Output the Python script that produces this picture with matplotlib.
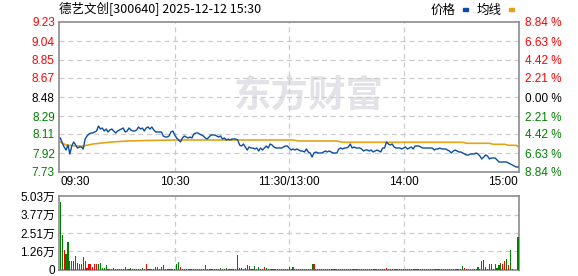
import matplotlib
matplotlib.use('Agg')
import matplotlib.pyplot as plt

plt.rcParams['font.family'] = ['Liberation Sans', 'Noto Sans CJK SC', 'DejaVu Sans']

# ---- data ----
title = '德艺文创[300640] 2025-12-12 15:30'
prev_close = 8.48

# one price per minute, 09:30 .. 15:00 (241 points)
price = [
    8.07, 8.02, 7.98, 7.95, 8.00, 7.91, 7.99, 8.03, 8.00, 7.97,
    7.98, 7.98, 7.96, 8.06, 8.09, 8.11, 8.12, 8.12, 8.13, 8.14,
    8.19, 8.16, 8.17, 8.14, 8.16, 8.13, 8.15, 8.16, 8.14, 8.12,
    8.14, 8.15, 8.16, 8.17, 8.13, 8.14, 8.17, 8.15, 8.14, 8.14,
    8.15, 8.18, 8.16, 8.17, 8.14, 8.17, 8.18, 8.16, 8.18, 8.15,
    8.13, 8.13, 8.13, 8.13, 8.09, 8.08, 8.08, 8.09, 8.13, 8.14,
    8.10, 8.07, 8.05, 8.03, 8.07, 8.09, 8.08, 8.07, 8.08, 8.07,
    8.11, 8.12, 8.12, 8.11, 8.10, 8.09, 8.07, 8.06, 8.08, 8.10,
    8.10, 8.10, 8.09, 8.08, 8.09, 8.06, 8.07, 8.05, 8.06, 8.05,
    8.06, 8.06, 8.06, 8.05, 8.00, 7.99, 8.01, 7.98, 7.95, 7.98,
    7.97, 7.97, 7.96, 7.97, 7.94, 7.97, 7.95, 7.97, 7.99, 7.97,
    8.01, 8.00, 7.98, 7.97, 7.97, 7.97, 7.97, 7.98, 7.99, 7.99,
    7.97, 7.95, 7.96, 7.95, 7.96, 7.95, 7.94, 7.94, 7.93, 7.96,
    7.93, 7.92, 7.88, 7.92, 7.93, 7.92, 7.92, 7.92, 7.93, 7.94,
    7.93, 7.94, 7.93, 7.92, 7.92, 7.92, 7.96, 7.97, 7.96, 7.97,
    7.97, 7.98, 8.01, 7.97, 7.98, 7.97, 7.97, 7.97, 7.96, 7.94,
    7.95, 7.95, 7.94, 7.95, 7.93, 7.94, 7.95, 7.94, 7.93, 7.97,
    7.97, 8.03, 8.01, 8.00, 8.01, 7.98, 7.97, 7.97, 7.97, 7.96,
    7.97, 7.98, 7.96, 7.97, 7.98, 7.96, 7.99, 7.99, 7.99, 7.98,
    7.97, 7.97, 7.97, 7.97, 7.97, 7.97, 7.95, 7.96, 7.96, 7.97,
    7.96, 7.96, 7.96, 7.95, 7.94, 7.92, 7.94, 7.95, 7.94, 7.93,
    7.93, 7.92, 7.91, 7.90, 7.90, 7.91, 7.91, 7.91, 7.92, 7.91,
    7.89, 7.86, 7.88, 7.90, 7.89, 7.86, 7.87, 7.87, 7.87, 7.85,
    7.83, 7.83, 7.83, 7.83, 7.83, 7.82, 7.81, 7.80, 7.79, 7.78,
    7.78,
]

# average price line, read at a few minutes
avg_minutes = [0, 3, 8, 12, 17, 22, 27, 35, 45, 60, 90, 122, 125, 145, 148,
               180, 211, 213, 225, 227, 233, 235, 239, 240]
avg_price = [8.03, 8.00, 7.99, 7.99, 8.01, 8.02, 8.03, 8.04, 8.045, 8.05, 8.05,
             8.05, 8.04, 8.04, 8.027, 8.027, 8.027, 8.017, 8.017, 8.007,
             8.007, 7.997, 7.997, 7.983]

# volume per minute, in 万 shares
volume = [
    4.62, 2.38, 1.36, 1.09, 1.93, 0.63, 0.63, 0.63, 0.95, 0.45,
    0.41, 0.41, 0.88, 0.61, 0.16, 0.41, 0.41, 0.18, 0.41, 0.41,
    0.41, 0.48, 0.14, 0.14, 0.34, 0.07, 0.07, 0.07, 0.14, 0.07,
    0.07, 0.07, 0.07, 0.07, 0.20, 0.07, 0.07, 0.14, 0.07, 0.07,
    0.07, 0.07, 0.07, 0.14, 0.07, 0.41, 0.07, 0.07, 0.07, 0.07,
    0.20, 0.20, 0.07, 0.20, 0.34, 0.07, 0.07, 0.07, 0.07, 0.07,
    0.07, 0.41, 0.57, 0.20, 0.07, 0.07, 0.07, 0.07, 0.07, 0.07,
    0.07, 0.07, 0.07, 0.07, 0.07, 0.07, 0.34, 0.07, 0.07, 0.07,
    0.07, 0.07, 0.07, 0.07, 0.14, 0.07, 0.07, 0.14, 0.07, 0.07,
    0.07, 0.07, 0.07, 1.02, 0.14, 0.14, 0.07, 0.14, 0.34, 0.27,
    0.07, 0.07, 0.27, 0.07, 0.20, 0.07, 0.07, 0.20, 0.14, 0.07,
    0.07, 0.07, 0.07, 0.07, 0.07, 0.07, 0.07, 0.07, 0.07, 0.07,
    0.20, 0.07, 0.20, 0.07, 0.07, 0.07, 0.07, 0.07, 0.07, 0.07,
    0.07, 0.07, 0.41, 0.41, 0.07, 0.07, 0.07, 0.07, 0.07, 0.07,
    0.07, 0.07, 0.07, 0.07, 0.07, 0.07, 0.07, 0.07, 0.07, 0.07,
    0.07, 0.07, 0.07, 0.07, 0.07, 0.07, 0.07, 0.07, 0.07, 0.07,
    0.07, 0.07, 0.07, 0.07, 0.07, 0.07, 0.07, 0.07, 0.07, 0.07,
    0.07, 0.14, 0.07, 0.07, 0.07, 0.07, 0.07, 0.07, 0.07, 0.07,
    0.07, 0.07, 0.07, 0.07, 0.07, 0.07, 0.07, 0.07, 0.07, 0.07,
    0.07, 0.07, 0.07, 0.07, 0.07, 0.07, 0.07, 0.07, 0.07, 0.07,
    0.07, 0.07, 0.07, 0.07, 0.07, 0.07, 0.07, 0.07, 0.07, 0.07,
    0.07, 0.27, 0.14, 0.07, 0.07, 0.07, 0.07, 0.07, 0.07, 0.20,
    0.07, 0.61, 0.68, 0.20, 0.07, 0.41, 0.41, 0.07, 0.41, 0.14,
    0.34, 0.48, 0.41, 0.61, 0.75, 0.34, 1.36, 0.07, 0.03, 0.03,
    2.24,
]
# R = up minute, G = down minute (same rows as volume)
vol_side = (
    'GGRGGRRRGG' 'GRRRRRRRRR' 'GGGGGGGRGG' 'RGGRRGGGRR'
    'RGGGRRRGRG' 'GRRRGRRRRR' 'GGGRRGGGRG' 'RRRGGRGRRR'
    'RRRGGRRGRR' 'RRGGRRRGGR' 'RRGRGRRRGR' 'RRGGRRRRRG'
    'GGGRRRRGRR' 'GGGRRGGGRR' 'RGGRGRRGRG' 'GRRGRGGRRG'
    'RGRRGGRGRR' 'GRRGGRGRRG' 'RRGGRGRRGR' 'GRRGGRRGRG'
    'RGGRRGRRGR' 'GGRRGRGRRG' 'RGGRGGRRRG' 'GGRRGRGGGR'
    'G'
)

price_ticks = [7.73, 7.92, 8.11, 8.29, 8.48, 8.67, 8.85, 9.04, 9.23]
pct_labels = ['8.84 %', '6.63 %', '4.42 %', '2.21 %', '0.00 %',
              '2.21 %', '4.42 %', '6.63 %', '8.84 %']
vol_ticks = [0, 1.26, 2.51, 3.77, 5.03]
vol_labels = ['0', '1.26万', '2.51万', '3.77万', '5.03万']
time_ticks = [0, 60, 120, 180, 240]
time_labels = ['09:30', '10:30', '11:30/13:00', '14:00', '15:00']

RED = '#ff0000'
GREEN = '#008000'
GRID = '#cccccc'
EDGE = '#8c8c8c'
BLUE = '#0c4ea2'
GOLD = '#e3a417'


def level_color(v):
    if abs(v - prev_close) < 1e-6:
        return 'black'
    return RED if v > prev_close else GREEN


fig = plt.figure(figsize=(5.78, 2.76), dpi=100)
ax = fig.add_axes([59 / 578, 1 - 172 / 276, 460 / 578, 150 / 276])
axv = fig.add_axes([59 / 578, 1 - 270 / 276, 460 / 578, 74 / 276])

minutes = list(range(len(price)))

# ---- price panel ----
ax.plot(minutes, price, color=BLUE, lw=1.0, zorder=3)
ax.plot(avg_minutes, avg_price, color=GOLD, lw=1.2, zorder=2)
ax.set_xlim(-0.7, 240.5)
ax.set_ylim(7.73, 9.23)
ax.set_yticks(price_ticks)
ax.set_yticklabels([f'{v:.2f}' for v in price_ticks], fontsize=8.5)
for lab, v in zip(ax.get_yticklabels(), price_ticks):
    lab.set_color(level_color(v))
ax.set_xticks(time_ticks)
ax.set_xticklabels(time_labels, fontsize=8.5)
xl = ax.get_xticklabels()
xl[0].set_ha('left')
xl[-1].set_ha('right')
ax.tick_params(length=0, pad=3)

axr = ax.twinx()
axr.set_ylim(ax.get_ylim())
axr.set_yticks(price_ticks)
axr.set_yticklabels(pct_labels[::-1], fontsize=8.5)
for lab, v in zip(axr.get_yticklabels(), price_ticks):
    lab.set_color(level_color(v))
axr.tick_params(length=0, pad=4)
for s in axr.spines.values():
    s.set_visible(False)

for v in price_ticks[1:-1]:
    ax.axhline(v, color=GRID, lw=0.9, ls=(0, (4, 3)), zorder=1)
for m in time_ticks[1:-1]:
    ax.axvline(m, color=GRID, lw=0.9, ls=(0, (4, 3)), zorder=1)

# watermark
ax.text(0.543, 0.51, '东方财富', transform=ax.transAxes, ha='center', va='center',
        fontsize=27, fontweight='bold', color='#e2e2e8',
        family=['Noto Sans CJK SC'], zorder=0)

# ---- volume panel ----
vol_colors = [RED if c == 'R' else GREEN for c in vol_side]
axv.bar(minutes, volume, width=0.6, color=vol_colors, linewidth=0, zorder=3)
axv.set_xlim(-0.7, 240.5)
axv.set_ylim(0, 5.03)
axv.set_yticks(vol_ticks)
axv.set_yticklabels(vol_labels, fontsize=8.5)
axv.set_xticks([])
axv.tick_params(length=0, pad=3)
for v in vol_ticks[1:-1]:
    axv.axhline(v, color=GRID, lw=0.9, ls=(0, (4, 3)), zorder=1)
for m in time_ticks[1:-1]:
    axv.axvline(m, color=GRID, lw=0.9, ls=(0, (4, 3)), zorder=1)

for a in (ax, axv):
    for s in a.spines.values():
        s.set_color(EDGE)
        s.set_linewidth(1.2)
        s.set_zorder(2)

# ---- title and legend ----
fig.text(59 / 578, 1 - 9 / 276, title, ha='left', va='center', fontsize=9,
         family=['Noto Sans CJK SC', 'DejaVu Sans'])
fig.text(431 / 578, 1 - 10 / 276, '价格', ha='left', va='center', fontsize=9,
         family=['Noto Sans CJK SC'])
fig.patches.append(plt.Rectangle((463 / 578, 1 - 11 / 276), 5 / 578, 3 / 276,
                                 transform=fig.transFigure, color=BLUE))
fig.text(477 / 578, 1 - 10 / 276, '均线', ha='left', va='center', fontsize=9,
         family=['Noto Sans CJK SC'])
fig.patches.append(plt.Rectangle((509 / 578, 1 - 11 / 276), 5 / 578, 3 / 276,
                                 transform=fig.transFigure, color=GOLD))

fig.savefig('out.png', dpi=100)
